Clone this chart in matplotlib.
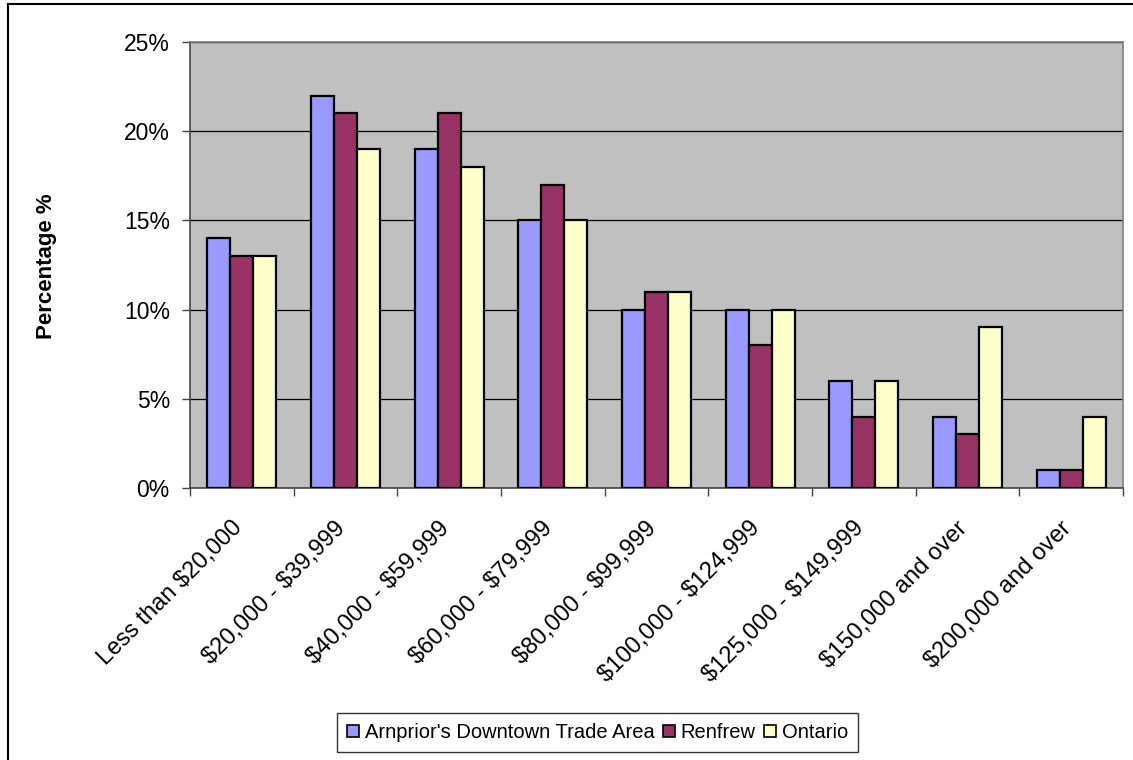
import matplotlib
matplotlib.use("Agg")
import matplotlib.pyplot as plt
import numpy as np
from matplotlib.lines import Line2D
from matplotlib.transforms import ScaledTranslation

categories = ["Less than $20,000", "$20,000 - $39,999", "$40,000 - $59,999",
              "$60,000 - $79,999", "$80,000 - $99,999", "$100,000 - $124,999",
              "$125,000 - $149,999", "$150,000 and over", "$200,000 and over"]
arnprior = [14, 22, 19, 15, 10, 10, 6, 4, 1]
renfrew = [13, 21, 21, 17, 11, 8, 4, 3, 1]
ontario = [13, 19, 18, 15, 11, 10, 6, 9, 4]
series_names = ["Arnprior's Downtown Trade Area", "Renfrew", "Ontario"]
colors = ["#9999FF", "#993366", "#FFFFCC"]
yticks = [0, 5, 10, 15, 20, 25]

plt.rcParams['font.family'] = ['Liberation Sans', 'DejaVu Sans']
plt.rcParams['text.parse_math'] = False

W, H = 1133, 760
fig = plt.figure(figsize=(W/100, H/100), dpi=100)
ax = fig.add_axes([190/W, 1-488/H, (1123-190)/W, (488-42)/H])
ax.set_facecolor("#C0C0C0")

x = np.arange(len(categories))
bw = 1/4.5
for i, (vals, name, c) in enumerate(zip([arnprior, renfrew, ontario], series_names, colors)):
    ax.bar(x + (i-1)*bw, vals, width=bw, color=c, edgecolor="black", linewidth=1.6,
           label=name, zorder=3)

ax.set_xlim(-0.5, len(categories)-0.5)
ax.set_ylim(0, 25)
ax.set_yticks(yticks)
ax.set_yticklabels([f"{t}%" for t in yticks], fontsize=16.5)
ax.yaxis.grid(True, color="black", linewidth=0.9, zorder=1)
ax.set_axisbelow(True)

ax.set_xticks(np.arange(len(categories)+1)-0.5)
ax.set_xticklabels([])
ax.set_xticks(x, minor=True)
ax.set_xticklabels(categories, minor=True, rotation=45, ha="right", va="top",
                   rotation_mode="anchor", fontsize=17)
ax.tick_params(axis="x", which="minor", length=0, pad=0)
ax.tick_params(axis="x", which="major", length=6, width=1, color="#444444")
ax.tick_params(axis="y", length=5.5, width=1, pad=9, color="#444444")
shift = ScaledTranslation(-11/100, -29/100, fig.dpi_scale_trans)
for lab in ax.get_xticklabels(minor=True):
    lab.set_transform(lab.get_transform() + shift)

for s in ["left", "bottom"]:
    ax.spines[s].set_color("#444444")
    ax.spines[s].set_linewidth(1.2)
for s in ["top", "right"]:
    ax.spines[s].set_color("#808080")
    ax.spines[s].set_linewidth(1.2)

fig.text(47/W, 1-266/H, "Percentage %", rotation=90, ha="center", va="center",
         fontsize=16, fontweight="bold")

leg = fig.legend(loc="center", bbox_to_anchor=((349+846)/2/W, 1-(711+754)/2/H),
                 ncol=3, fontsize=14.5, frameon=True, fancybox=False,
                 handlelength=0.6, handleheight=0.6, handletextpad=0.3,
                 columnspacing=0.4, borderpad=0.5, borderaxespad=0,
                 edgecolor="black")
leg.get_frame().set_linewidth(1.0)
for h in leg.legend_handles:
    h.set_linewidth(1.2)

fig.add_artist(Line2D([7.5/W, 7.5/W], [0, 1-3.5/H], transform=fig.transFigure,
                      color="black", linewidth=1.5))
fig.add_artist(Line2D([7.5/W, 1], [1-3.5/H, 1-3.5/H], transform=fig.transFigure,
                      color="black", linewidth=1.5))

fig.savefig("out.png", dpi=100)
